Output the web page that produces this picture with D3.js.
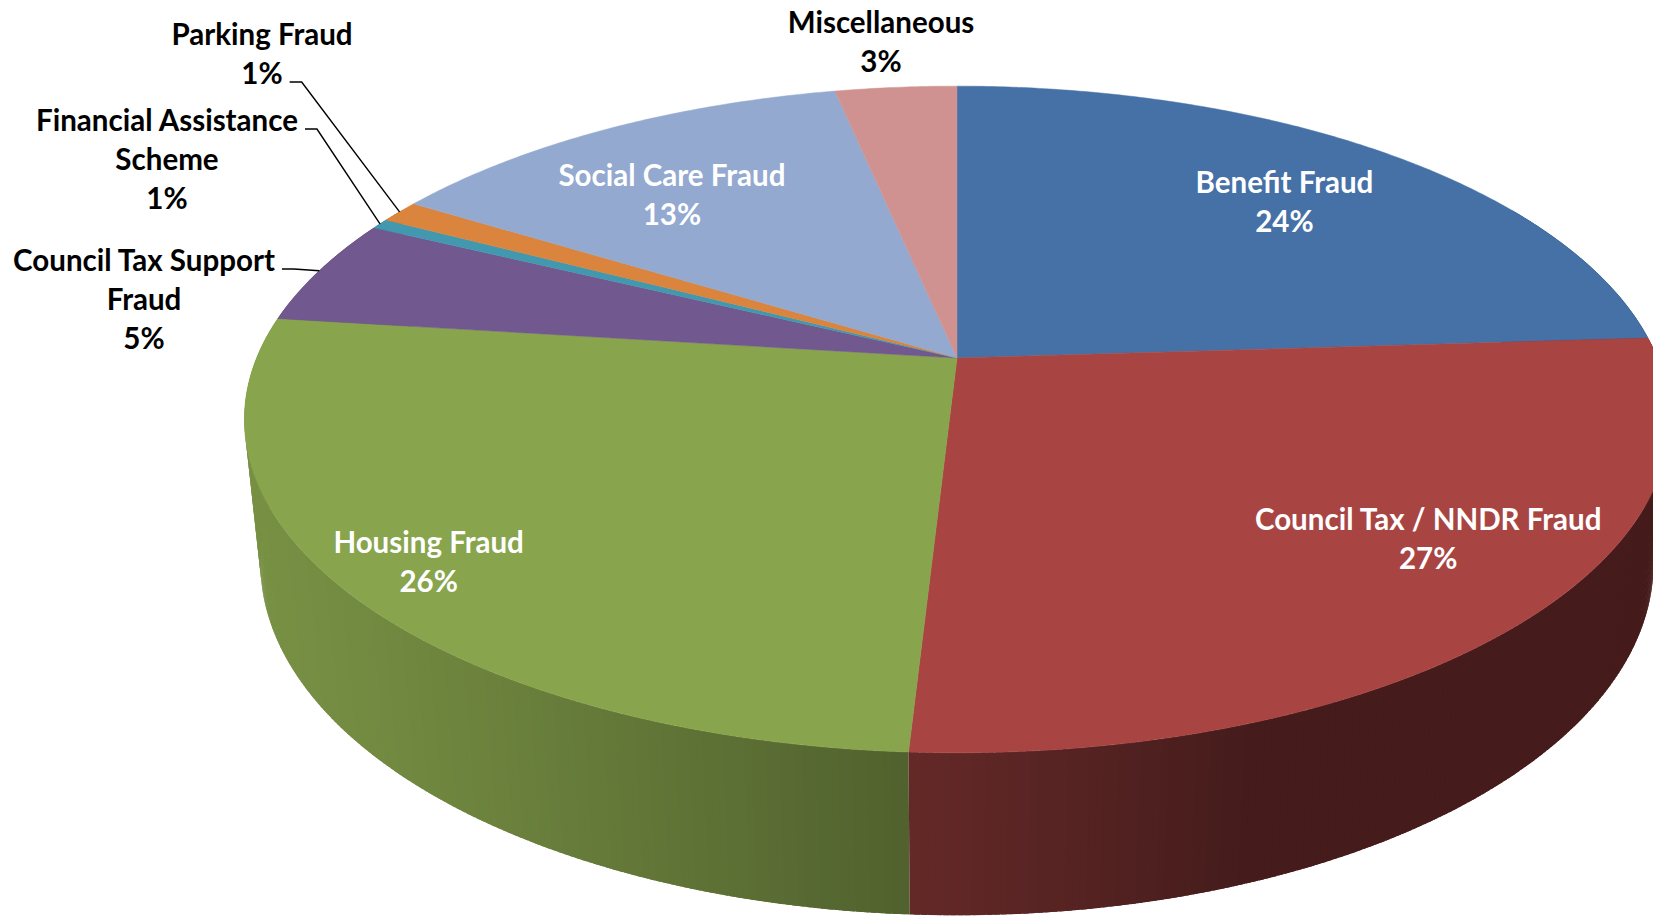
<!DOCTYPE html>
<html lang="en">
<head>
<meta charset="UTF-8">
<title>Fraud by type</title>
<script src="https://cdnjs.cloudflare.com/ajax/libs/d3/7.8.5/d3.min.js"></script>
<style>
  body {margin:0; background:#fff; overflow:hidden}
  svg {display:block}
  .lbl {font-family: Lato, "Open Sans", sans-serif; font-weight:bold;}
</style>
</head>
<body>
<svg id="chart" width="1653" height="916"></svg>
<script>
// slices, clockwise from 12 o'clock
var categories = ["Benefit Fraud", "Council Tax / NNDR Fraud", "Housing Fraud", "Council Tax Support Fraud",
                  "Financial Assistance Scheme", "Parking Fraud", "Social Care Fraud", "Miscellaneous"];
// share of cases in %
var shares = [24.0, 26.9, 26.1, 5.2, 0.5, 1.1, 12.9, 3.3];
// how excel wrapped the names
var labelLines = [["Benefit Fraud"], ["Council Tax / NNDR Fraud"], ["Housing Fraud"], ["Council Tax Support", "Fraud"],
                  ["Financial Assistance", "Scheme"], ["Parking Fraud"], ["Social Care Fraud"], ["Miscellaneous"]];
var colours = ["#4571A6", "#A84543", "#88A44D", "#71588F", "#4198AF", "#DB843D", "#93A9CF", "#D09291"];

// ---- layout bits (not data) ----
var cam = {cx: 957, cy: 358, f: 3373, dist: 4.816, tilt: 27.37 * Math.PI / 180, depth: 0.233};
var sinT = Math.sin(cam.tilt), cosT = Math.cos(cam.tilt);
var insideLabel = {0: [-11, 10], 1: [40, -16], 2: [-66, 27], 6: [-4, 21]};   // nudges from the r=0.78 point
var outsideLabel = {3: {x: 144, y: 271, row: 0}, 4: {x: 167, y: 131, row: 0}, 5: {x: 262, y: 45, row: 1}, 7: {x: 881, y: 33, row: -1}};
var lineH = 39;
var deg = Math.PI / 180;

var svg = d3.select("#chart");

// a: radians clockwise from 12, r: 0..1, h: 0 top face, -depth bottom
function project(a, r, h) {
    var X = r * Math.sin(a), Z = r * Math.cos(a);
    var yc = h * cosT + Z * sinT;
    var zc = cam.dist + Z * cosT - h * sinT;
    return [cam.cx + cam.f * X / zc, cam.cy - cam.f * yc / zc];
}

// light comes from the front-left, side walls get darker towards the right
function shade(col, a) {
    var k = 0.41 + 0.466 * Math.max(0, Math.cos(a - 250 * deg));
    var c = d3.rgb(col);
    return d3.rgb(c.r * k, c.g * k, c.b * k).formatHex();
}

var arcs = d3.pie().sort(null).value(function(d){ return d; })(shares);
var line = d3.line();
var step = Math.PI / 360;

function rim(a0, a1, h) {
    var n = Math.max(2, Math.ceil(Math.abs(a1 - a0) / step)), pts = [];
    for (var k = 0; k <= n; k++) pts.push(project(a0 + (a1 - a0) * k / n, 1, h));
    return pts;
}

// side wall in thin strips, back to front; each strip overlaps its
// neighbours a little so no background shows through the seams
var strips = [];
arcs.forEach(function(d, i){
    var a0 = Math.max(d.startAngle, 60 * deg), a1 = Math.min(d.endAngle, 300 * deg);
    if (a1 <= a0) return;
    var n = Math.max(1, Math.ceil((a1 - a0) / step));
    var ov = Math.min(0.4 * step, (a1 - a0) / n * 0.4);
    for (var k = 0; k < n; k++){
        var s0 = a0 + (a1 - a0) * k / n, s1 = a0 + (a1 - a0) * (k + 1) / n;
        var am = (s0 + s1) / 2;
        strips.push({
            s0: Math.max(a0, s0 - ov), s1: Math.min(a1, s1 + ov),
            z: Math.cos(am), fill: shade(colours[i], am)
        });
    }
});
strips.sort(function(p, q){ return q.z - p.z; });

svg.append("g").selectAll("path")
    .data(strips)
    .enter()
    .append("path")
    .attr("d", function(s){
        return line([project(s.s0, 1, 0), project(s.s1, 1, 0), project(s.s1, 1, -cam.depth), project(s.s0, 1, -cam.depth)]) + "Z";
    })
    .attr("fill", function(s){ return s.fill; });

// top faces
svg.append("g").selectAll("path")
    .data(arcs)
    .enter()
    .append("path")
    .attr("d", function(d){
        return line([project(0, 0, 0)].concat(rim(d.startAngle, d.endAngle, 0))) + "Z";
    })
    .attr("fill", function(d, i){ return colours[i]; })
    .attr("stroke", function(d, i){ return colours[i]; })
    .attr("stroke-width", 0.5);

// font size so the widest label comes out like the original
var probe = svg.append("text").attr("class", "lbl").style("font-size", "30px").text("Financial Assistance");
var fs = 30 * 262 / probe.node().getComputedTextLength();
probe.remove();
var capH = 0.72 * fs;

var labels = svg.append("g").attr("class", "lbl").style("font-size", fs + "px").attr("text-anchor", "middle");
var leaders = svg.append("g").attr("fill", "none").attr("stroke", "#000").attr("stroke-width", 1.4);

arcs.forEach(function(d, i){
    var mid = (d.startAngle + d.endAngle) / 2;
    var rows = labelLines[i].concat([Math.round(shares[i]) + "%"]);
    var t;
    if (insideLabel[i]){
        var p = project(mid, 0.78, 0);
        var ax = p[0] + insideLabel[i][0], ay = p[1] + insideLabel[i][1];
        var y0 = ay - (rows.length - 1) * lineH / 2 + capH / 2;
        t = labels.append("text").attr("fill", "#fff");
        rows.forEach(function(r, k){
            t.append("tspan").attr("x", ax).attr("y", y0 + k * lineH).text(r);
        });
    } else {
        var o = outsideLabel[i];
        t = labels.append("text").attr("fill", "#000");
        var spans = rows.map(function(r, k){
            return t.append("tspan").attr("x", o.x).attr("y", o.y + k * lineH).text(r);
        });
        if (o.row >= 0){
            var w = spans[o.row].node().getComputedTextLength();
            var sx = o.x + w / 2 + 7, sy = o.y + o.row * lineH - 2;
            leaders.append("path").attr("d", line([[sx, sy], [sx + 12, sy], project(mid, 1, 0)]));
        }
    }
});
</script>
</body>
</html>
